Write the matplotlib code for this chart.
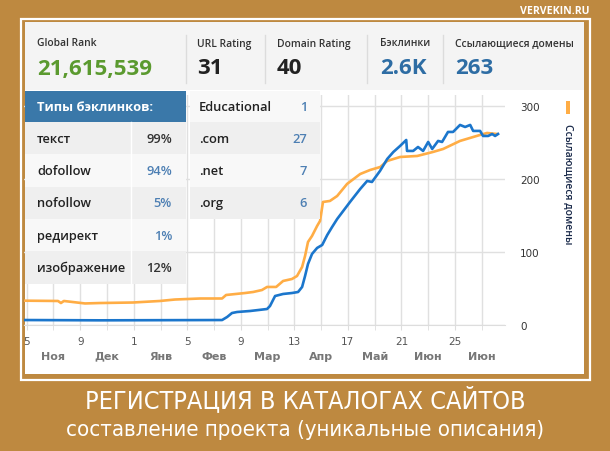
import matplotlib
matplotlib.use("Agg")
import matplotlib.pyplot as plt
from matplotlib import font_manager
from matplotlib.patches import Rectangle

# ---- data ----
stat_labels = ["Global Rank", "URL Rating", "Domain Rating", "Бэклинки", "Ссылающиеся домены"]
stat_values = ["21,615,539", "31", "40", "2.6K", "263"]

link_types = ["текст", "dofollow", "nofollow", "редирект", "изображение"]
link_pct = ["99%", "94%", "5%", "1%", "12%"]

zones = ["Educational", ".com", ".net", ".org"]
zone_counts = ["1", "27", "7", "6"]

tick_nums = ["5", "9", "1", "5", "9", "13", "17", "21", "25"]
months = ["Ноя", "Дек", "Янв", "Фев", "Мар", "Апр", "Май", "Июн", "Июн"]

# weeks since start -> referring domains (orange)
dom_x = [-0.1, 1.17, 1.28, 1.39, 2.18, 2.74, 3.97, 4.98, 5.54, 6.48, 7.30, 7.45, 8.16, 8.46,
         8.79, 8.98, 9.32, 9.58, 9.91, 10.10, 10.29, 10.40, 10.51, 10.66, 10.85, 10.96,
         11.07, 11.33, 11.60, 11.97, 12.46, 12.83, 13.21, 13.47, 13.95, 14.59, 15.18,
         15.56, 16.19, 16.94, 17.20, 17.57]
dom_y = [33.3, 32.9, 30.1, 32.9, 29.5, 30.1, 30.8, 32.9, 34.9, 36.3, 36.3, 41.1, 43.8, 45.2,
         47.9, 52.1, 52.1, 60.3, 63.0, 67.1, 79.5, 94.5, 113.7, 121.9, 135.6, 142.5,
         168.5, 169.9, 176.7, 193.2, 206.8, 212.3, 216.4, 224.7, 230.1, 231.5, 237.0,
         241.1, 252.1, 260.3, 263.0, 261.6]

# backlinks (blue), drawn on the same scale
bl_x = [-0.1, 2.74, 7.30, 7.49, 7.67, 7.86, 8.35, 8.98, 9.09, 9.28, 9.58, 9.91, 10.14, 10.29,
        10.40, 10.51, 10.66, 10.85, 11.04, 11.23, 11.41, 11.60, 12.08, 12.46, 12.72, 12.90,
        13.20, 13.47, 13.70, 13.95, 14.18, 14.21, 14.44, 14.62, 14.81, 15.00, 15.15, 15.37,
        15.52, 15.74, 15.93, 16.19, 16.38, 16.57, 16.68, 16.94, 17.05, 17.24, 17.39, 17.50,
        17.61]
bl_y = [6.8, 6.4, 6.8, 11.0, 16.4, 17.8, 19.2, 21.9, 26.0, 39.7, 42.5, 43.8, 45.2, 52.1,
        67.1, 83.6, 97.3, 105.5, 109.6, 123.3, 134.2, 145.2, 168.5, 186.3, 197.3, 195.9,
        211.0, 227.4, 237.0, 245.2, 253.4, 238.4, 238.4, 243.8, 238.4, 250.7, 241.1, 252.1,
        250.7, 264.4, 264.4, 274.0, 271.2, 274.0, 265.8, 265.8, 258.9, 258.9, 261.6, 258.9,
        261.6]

BROWN = "#BE8940"
ORANGE = "#FFAD45"
BLUE = "#1B76CC"
W, H = 610, 452

# narrow font with Cyrillic for the caption, if one is installed
narrow = None
for want in ["Liberation Sans Narrow", "DejaVu Sans"]:
    for f in font_manager.fontManager.ttflist:
        if f.name != want or f.style != "normal" or f.weight not in (400, "normal", "regular"):
            continue
        if want == "DejaVu Sans" and f.stretch != "condensed":
            continue
        narrow = f.fname
        break
    if narrow:
        break
cap_font = font_manager.FontProperties(fname=narrow) if narrow else \
    font_manager.FontProperties(family="Liberation Sans")

fig = plt.figure(figsize=(W / 100, H / 100), dpi=100)
fig.patch.set_facecolor(BROWN)

# background layer in pixel coordinates
bg = fig.add_axes([0, 0, 1, 1], zorder=0)
bg.set_xlim(0, W)
bg.set_ylim(H, 0)
bg.axis("off")
bg.add_patch(Rectangle((21, 19.5), 568.5, 361, fill=False, ec="white", lw=1.6))
bg.add_patch(Rectangle((25, 22.5), 559, 352, fc="white", ec="none"))
bg.add_patch(Rectangle((25, 22.5), 559, 68, fc="#F4F4F4", ec="none"))
for xd in [186, 265, 367, 443]:
    bg.plot([xd, xd], [36, 84], color="#DCDCDC", lw=1)
stat_x = [37, 197, 277, 380, 455]
stat_colors = ["#5B9A2F", "#222222", "#222222", "#2E6DA4", "#2E6DA4"]
for sx, lab, val, col in zip(stat_x, stat_labels, stat_values, stat_colors):
    bg.text(sx, 44, lab, fontsize=7.4, family="Open Sans", weight="semibold",
            color="#333333", va="center")
    bg.text(sx, 69, val, fontsize=16, family="Open Sans", weight="bold",
            color=col, va="center")
bg.text(590, 12, "VERVEKIN.RU", fontsize=7.6, family="Open Sans", weight="bold",
        color="white", ha="right", va="center")
cap1 = bg.text(305, 400, "РЕГИСТРАЦИЯ В КАТАЛОГАХ САЙТОВ", fontproperties=cap_font,
               fontsize=20, color="white", ha="center", va="center")
cap2 = bg.text(305, 430, "составление проекта (уникальные описания)", fontproperties=cap_font,
               fontsize=20, color="white", ha="center", va="center")

# chart
ax = fig.add_axes([24 / W, (H - 326) / H, 481 / W, 230 / H], zorder=1)
ax.patch.set_alpha(0)
ax.plot(dom_x, dom_y, color=ORANGE, lw=1.9, solid_joinstyle="round")
ax.plot(bl_x, bl_y, color=BLUE, lw=1.9, solid_joinstyle="round")
ax.set_xlim(-0.1, 17.87)
ax.set_ylim(0, 315)
for s in ["left", "top", "right"]:
    ax.spines[s].set_visible(False)
ax.spines["bottom"].set_color("#DDDDDD")
ax.set_xticks(range(0, 18, 2))
ax.set_xticklabels(tick_nums)
ax.set_xticks(range(1, 18, 2), minor=True)
ax.set_xticklabels(months, minor=True)
ax.tick_params(axis="x", which="both", length=3.6, color="#DDDDDD")
ax.tick_params(axis="x", which="major", pad=4.5, labelsize=7.5, labelcolor="#555555")
ax.tick_params(axis="x", which="minor", pad=15, labelsize=8, labelcolor="#777777")
for t in ax.get_xticklabels(minor=True):
    t.set_fontweight("bold")
ax.grid(True, which="both", axis="x", color="#E0E0E0", lw=1)
ax.grid(True, axis="y", color="#E0E0E0", lw=1)
ax.set_yticks([0, 100, 200, 300])
ax.yaxis.tick_right()
ax.tick_params(axis="y", length=0, pad=10.8, labelsize=7.5, labelcolor="#333333")
for t in ax.get_yticklabels():
    t.set_ha("left")
ax.set_axisbelow(True)

# overlay: legend swatch, axis title and tables
ov = fig.add_axes([0, 0, 1, 1], zorder=2)
ov.set_xlim(0, W)
ov.set_ylim(H, 0)
ov.axis("off")
ov.patch.set_alpha(0)
ov.add_patch(Rectangle((565.5, 102), 4, 13, fc=ORANGE, ec="none"))
ov.text(567.5, 184, "Ссылающиеся домены", rotation=270, fontsize=7.5, family="Open Sans",
        weight="semibold", color="#1A2A4A", ha="center", va="center")

row_h = 32.3
ov.add_patch(Rectangle((25, 92), 161, 31, fc="#3A78A9", ec="none"))
ov.text(37, 107.5, "Типы бэклинков:", fontsize=9.3, family="Open Sans", weight="bold",
        color="white", va="center")
pct_colors = ["#333333", "#4D7FB3", "#4D7FB3", "#4D7FB3", "#333333"]
for i, (lab, val, col) in enumerate(zip(link_types, link_pct, pct_colors)):
    y0 = 123 + i * row_h
    fc = "#EFEFEF" if i % 2 == 0 else "#F8F8F8"
    ov.add_patch(Rectangle((25, y0), 161, row_h, fc=fc, ec="none"))
    ov.text(37, y0 + row_h / 2, lab, fontsize=9.3, family="Open Sans", weight="semibold",
            color="#222222", va="center")
    ov.text(172, y0 + row_h / 2, val, fontsize=9.3, family="Open Sans", weight="semibold",
            color=col, va="center", ha="right")
ov.plot([131, 131], [123, 123 + 5 * row_h], color="white", lw=1)

for i, (lab, val) in enumerate(zip(zones, zone_counts)):
    y0 = 92 if i == 0 else 123 + (i - 1) * row_h
    h = 31 if i == 0 else row_h
    fc = "#F8F8F8" if i % 2 == 0 else "#EFEFEF"
    ov.add_patch(Rectangle((190, y0), 130, h, fc=fc, ec="none"))
    ov.text(199, y0 + h / 2, lab, fontsize=9.3, family="Open Sans", weight="semibold",
            color="#222222", va="center")
    ov.text(307, y0 + h / 2, val, fontsize=9.3, family="Open Sans", weight="semibold",
            color="#4D7FB3", va="center", ha="right")

# fit caption lines to the widths seen in the reference
fig.canvas.draw()
renderer = fig.canvas.get_renderer()
for txt, target in [(cap1, 441), (cap2, 480)]:
    wpx = txt.get_window_extent(renderer).width
    txt.set_fontsize(min(20, 20 * target / wpx))

fig.savefig("out.png", dpi=100, facecolor=BROWN)
